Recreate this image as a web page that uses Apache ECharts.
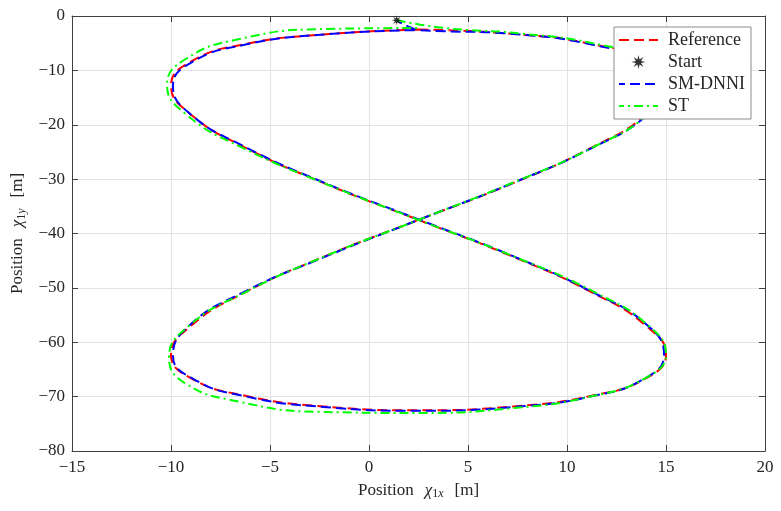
<!DOCTYPE html>
<html>
<head>
<meta charset="utf-8">
<script src="https://cdn.jsdelivr.net/npm/echarts@6/dist/echarts.min.js"></script>
<style>
  html, body { margin: 0; padding: 0; background: #fff; }
  #container { width: 781px; height: 511px; }
</style>
</head>
<body>
<div id="container"></div>
<script>
// trajectory values, in metres
var refX = [2.5, 7.3, 11.3, 14.0, 15.0, 14.0, 11.3, 7.3, 2.5, -2.3, -6.3, -9.0, -10.0, -9.0, -6.3, -2.3, 2.5,
            7.3, 11.3, 14.0, 15.0, 14.0, 11.3, 7.3, 2.5, -2.3, -6.3, -9.0, -10.0, -9.0, -6.3, -2.3, 2.5];
var refY = [-2.5, -3.3, -5.2, -8.4, -12.8, -18.1, -24.1, -30.7, -37.5, -44.3, -50.9, -57.0, -62.3, -66.6, -69.8, -71.8, -72.5,
            -71.8, -69.8, -66.6, -62.3, -57.0, -50.9, -44.3, -37.5, -30.7, -24.1, -18.1, -12.8, -8.4, -5.2, -3.4, -2.5];

var startX = [1.4];
var startY = [-0.8];

var smX = [1.4, 2.1, 2.6, 7.3, 11.3, 14.0, 15.0, 14.1, 11.3, 7.2, 2.5, -2.3, -6.4, -9.1, -9.9, -8.9, -6.3, -2.3, 2.5,
           7.3, 11.3, 14.0, 14.9, 14.1, 11.3, 7.3, 2.5, -2.3, -6.3, -9.0, -9.9, -9.0, -6.3, -2.3, 2.5];
var smY = [-0.8, -2.1, -2.6, -3.3, -5.3, -8.5, -12.9, -18.1, -24.2, -30.8, -37.5, -44.4, -50.9, -57.0, -62.5, -66.7, -69.9, -71.9, -72.6,
           -71.9, -69.9, -66.5, -62.3, -57.0, -50.8, -44.2, -37.4, -30.6, -24.0, -18.1, -12.9, -8.6, -5.3, -3.4, -2.6];

var stX = [1.4, 2.6, 3.8, 5.1, 7.3, 11.3, 14.0, 15.0, 14.1, 11.4, 7.3, 2.5, -2.3, -6.3, -9.1, -10.1, -9.3, -6.6, -2.5, 2.5,
           7.3, 11.3, 14.0, 15.0, 14.1, 11.4, 7.3, 2.5, -2.3, -6.4, -9.2, -10.2, -9.3, -6.5, -2.3, 2.5];
var stY = [-0.8, -1.6, -2.2, -2.6, -3.1, -5.0, -8.2, -12.6, -18.0, -24.0, -30.6, -37.5, -44.3, -50.9, -57.0, -62.8, -67.5, -70.9, -72.8, -73.0,
           -72.1, -69.9, -66.5, -62.2, -56.9, -50.8, -44.2, -37.5, -30.7, -24.2, -18.2, -12.7, -8.0, -4.2, -2.4, -2.2];

var xTicks = { min: -15, max: 20, step: 5 };
var yTicks = { min: -80, max: 0, step: 10 };

function pairs(xs, ys) {
    return xs.map(function (x, i) { return [x, ys[i]]; });
}

var serif = '"Liberation Serif", "DejaVu Serif", serif';
var axisColor = '#404040';
var textColor = '#262626';
var starPath = 'path://M10 0 L3.7 1.53 L7.07 7.07 L1.53 3.7 L0 10 L-1.53 3.7 L-7.07 7.07 L-3.7 1.53 L-10 0 L-3.7 -1.53 L-7.07 -7.07 L-1.53 -3.7 L0 -10 L1.53 -3.7 L7.07 -7.07 L3.7 -1.53 Z';

function minus(v) { return String(v).replace('-', '\u2212'); }

// math-style spacing round the symbol, like the LaTeX label
var nameRich = {
    a: { fontFamily: serif, fontSize: 17, color: textColor },
    c: { fontFamily: serif, fontSize: 17, fontStyle: 'italic', color: textColor, padding: [0, 0, 0, 11] },
    s: { fontFamily: serif, fontSize: 12, color: textColor, padding: [7, 0, 0, 0] },
    si: { fontFamily: serif, fontSize: 12, fontStyle: 'italic', color: textColor, padding: [7, 11, 0, 0] }
};

function mainAxis(t, pos) {
    return {
        type: 'value',
        position: pos,
        min: t.min,
        max: t.max,
        interval: t.step,
        axisLine: { show: true, onZero: false, lineStyle: { color: axisColor, width: 1 } },
        axisTick: { show: true, inside: true, length: 6, lineStyle: { color: axisColor } },
        axisLabel: { fontFamily: serif, fontSize: 17, color: textColor, formatter: minus },
        splitLine: { show: true, lineStyle: { color: '#e3e3e3', width: 1 } }
    };
}

function sideAxis(t, pos) {
    return {
        type: 'value',
        position: pos,
        min: t.min,
        max: t.max,
        interval: t.step,
        axisLine: { show: true, onZero: false, lineStyle: { color: axisColor, width: 1 } },
        axisTick: { show: true, inside: true, length: 6, lineStyle: { color: axisColor } },
        axisLabel: { show: false },
        splitLine: { show: false }
    };
}

var xMain = mainAxis(xTicks, 'bottom');
xMain.name = '{a|Position}{c|χ}{s|1}{si|x}{a|[m]}';
xMain.nameLocation = 'middle';
xMain.nameGap = 30;
xMain.nameTextStyle = { rich: nameRich };
xMain.axisLabel.margin = 8;

var yMain = mainAxis(yTicks, 'left');
yMain.name = '{a|Position}{c|χ}{s|1}{si|y}{a|[m]}';
yMain.nameLocation = 'middle';
yMain.nameGap = 44;
yMain.nameTextStyle = { rich: nameRich };
yMain.axisLabel.margin = 7;

var lineLegend = { opacity: 0 };

var dom = document.getElementById('container');
var myChart = echarts.init(dom);

var option = {
    backgroundColor: '#fff',
    animation: false,
    grid: { left: 72, right: 16, top: 16, bottom: 60 },
    legend: {
        orient: 'vertical',
        left: 614,
        top: 27,
        z: 20,
        padding: [4, 6, 4, 4],
        itemWidth: 39,
        itemHeight: 14,
        itemGap: 4,
        backgroundColor: '#fff',
        borderColor: '#8c8c8c',
        borderWidth: 1,
        textStyle: { fontFamily: serif, fontSize: 18, color: textColor, padding: [0, 0, 0, 5] },
        data: [
            { name: 'Reference', itemStyle: lineLegend },
            { name: 'Start' },
            { name: 'SM-DNNI', itemStyle: lineLegend },
            { name: 'ST', itemStyle: lineLegend }
        ]
    },
    xAxis: [xMain, sideAxis(xTicks, 'top')],
    yAxis: [yMain, sideAxis(yTicks, 'right')],
    series: [
        {
            name: 'Reference',
            type: 'line',
            smooth: true,
            symbol: 'none',
            data: pairs(refX, refY),
            lineStyle: { color: '#ff0000', width: 2, type: [10, 5] },
            itemStyle: { color: '#ff0000' },
            z: 2
        },
        {
            name: 'Start',
            type: 'scatter',
            symbol: starPath,
            symbolSize: 10,
            data: pairs(startX, startY),
            itemStyle: { color: '#000' },
            z: 3
        },
        {
            name: 'SM-DNNI',
            type: 'line',
            smooth: true,
            symbol: 'none',
            data: pairs(smX, smY),
            lineStyle: { color: '#0000ff', width: 2, type: [10, 5], dashOffset: 4 },
            itemStyle: { color: '#0000ff' },
            z: 2
        },
        {
            name: 'ST',
            type: 'line',
            smooth: true,
            symbol: 'none',
            data: pairs(stX, stY),
            lineStyle: { color: '#00ff00', width: 2, type: [9, 4, 2, 4] },
            itemStyle: { color: '#00ff00' },
            z: 2
        }
    ]
};

if (option && typeof option === 'object') {
    myChart.setOption(option, true);
}
</script>
</body>
</html>
